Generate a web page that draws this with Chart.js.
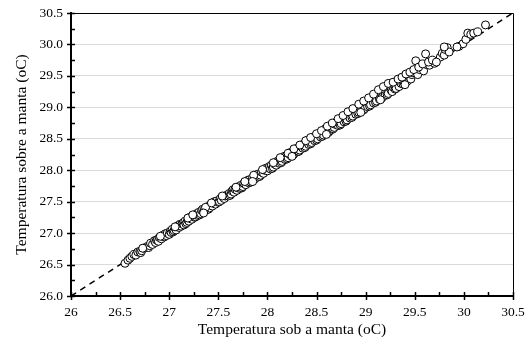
<!DOCTYPE html>
<html>
<head>
<meta charset="utf-8">
<script src="https://cdn.jsdelivr.net/npm/chart.js@4/dist/chart.umd.min.js"></script>
<style>
  body { margin: 0; background: #fff; }
</style>
</head>
<body>
<canvas id="scatterChart" width="526" height="343"></canvas>
<script>
// temperatura sob a manta (x) x temperatura sobre a manta (y)
const sobManta = [
  26.55, 26.58, 26.60, 26.62, 26.64, 26.66, 26.68, 26.70, 26.71, 26.72, 26.74, 26.76, 26.78, 26.79, 26.80, 26.81,
  26.83, 26.85, 26.86, 26.87, 26.88, 26.89, 26.90, 26.92, 26.93, 26.94, 26.95, 26.96, 26.97, 26.98, 27.00, 27.01,
  27.02, 27.03, 27.04, 27.05, 27.06, 27.07, 27.08, 27.09, 27.10, 27.11, 27.12, 27.13, 27.14, 27.15, 27.16, 27.17,
  27.18, 27.19, 27.20, 27.21, 27.22, 27.23, 27.25, 27.26, 27.27, 27.28, 27.29, 27.30, 27.31, 27.32, 27.33, 27.34,
  27.35, 27.36, 27.38, 27.39, 27.40, 27.41, 27.42, 27.44, 27.45, 27.46, 27.47, 27.48, 27.50, 27.51, 27.52, 27.53,
  27.55, 27.56, 27.57, 27.58, 27.60, 27.61, 27.62, 27.63, 27.64, 27.65, 27.66, 27.67, 27.69, 27.70, 27.71, 27.72,
  27.73, 27.74, 27.75, 27.76, 27.78, 27.79, 27.80, 27.81, 27.82, 27.83, 27.84, 27.85, 27.87, 27.88, 27.89, 27.90,
  27.91, 27.92, 27.93, 27.94, 27.96, 27.97, 27.98, 27.99, 28.00, 28.01, 28.02, 28.03, 28.04, 28.05, 28.06, 28.07,
  28.08, 28.09, 28.10, 28.11, 28.12, 28.13, 28.14, 28.15, 28.16, 28.17, 28.18, 28.19, 28.20, 28.21, 28.22, 28.23,
  28.24, 28.25, 28.26, 28.27, 28.28, 28.29, 28.30, 28.31, 28.32, 28.33, 28.34, 28.35, 28.36, 28.37, 28.38, 28.39,
  28.40, 28.41, 28.42, 28.43, 28.44, 28.45, 28.46, 28.47, 28.48, 28.49, 28.50, 28.51, 28.52, 28.53, 28.54, 28.55,
  28.56, 28.57, 28.58, 28.59, 28.60, 28.61, 28.62, 28.63, 28.64, 28.65, 28.66, 28.67, 28.68, 28.69, 28.70, 28.71,
  28.72, 28.73, 28.74, 28.75, 28.76, 28.77, 28.78, 28.79, 28.80, 28.81, 28.82, 28.83, 28.84, 28.85, 28.86, 28.87,
  28.88, 28.89, 28.90, 28.91, 28.92, 28.93, 28.94, 28.95, 28.96, 28.97, 28.98, 28.99, 29.00, 29.01, 29.02, 29.03,
  29.04, 29.05, 29.06, 29.07, 29.08, 29.09, 29.10, 29.11, 29.12, 29.13, 29.14, 29.15, 29.16, 29.17, 29.18, 29.19,
  29.20, 29.21, 29.22, 29.23, 29.24, 29.25, 29.26, 29.27, 29.28, 29.29, 29.30, 29.31, 29.32, 29.34, 29.35, 29.36,
  29.38, 29.39, 29.40, 29.42, 29.43, 29.44, 29.46, 29.47, 29.48, 29.50, 29.51, 29.53, 29.55, 29.57, 29.59, 29.61,
  29.62, 29.65, 29.70, 29.76, 29.78, 29.80, 29.81, 29.83, 29.85, 29.95, 29.99, 30.02, 30.04, 30.07, 30.10, 30.14,
  30.22,
  26.73, 26.91, 27.06, 27.19, 27.24, 27.37, 27.43, 27.54, 27.68, 27.77, 27.86, 27.95, 28.06, 28.13, 28.21, 28.27,
  28.33, 28.39, 28.44, 28.50, 28.55, 28.61, 28.66, 28.72, 28.77, 28.82, 28.87, 28.93, 28.98, 29.03, 29.08, 29.13,
  29.18, 29.23, 29.28, 29.33, 29.37, 29.41, 29.45, 29.49, 29.54, 29.58, 29.64, 29.68, 29.72, 29.80, 29.93,
  27.35, 27.85, 28.25, 28.60, 28.95, 29.15, 29.40
];
const sobreManta = [
  26.52, 26.57, 26.60, 26.63, 26.66, 26.65, 26.70, 26.71, 26.69, 26.72, 26.76, 26.77, 26.79, 26.77, 26.80, 26.84,
  26.82, 26.88, 26.85, 26.89, 26.90, 26.87, 26.93, 26.91, 26.95, 26.97, 26.94, 26.99, 26.96, 27.00, 26.98, 27.03,
  27.01, 27.06, 27.02, 27.04, 27.08, 27.05, 27.10, 27.12, 27.09, 27.14, 27.11, 27.15, 27.16, 27.13, 27.19, 27.15,
  27.17, 27.21, 27.19, 27.25, 27.24, 27.22, 27.27, 27.25, 27.26, 27.31, 27.28, 27.33, 27.29, 27.31, 27.36, 27.38,
  27.34, 27.39, 27.37, 27.42, 27.38, 27.40, 27.45, 27.43, 27.48, 27.50, 27.46, 27.51, 27.49, 27.50, 27.55, 27.52,
  27.57, 27.55, 27.59, 27.60, 27.59, 27.63, 27.60, 27.62, 27.67, 27.69, 27.65, 27.70, 27.68, 27.72, 27.74, 27.71,
  27.76, 27.72, 27.74, 27.79, 27.77, 27.82, 27.84, 27.80, 27.85, 27.81, 27.83, 27.88, 27.86, 27.91, 27.93, 27.89,
  27.94, 27.90, 27.92, 27.97, 27.95, 28.00, 28.03, 28.01, 27.99, 28.04, 28.06, 28.02, 28.08, 28.03, 28.05, 28.10,
  28.12, 28.08, 28.14, 28.15, 28.11, 28.16, 28.12, 28.14, 28.20, 28.22, 28.17, 28.22, 28.18, 28.20, 28.26, 28.28,
  28.23, 28.28, 28.24, 28.26, 28.32, 28.34, 28.29, 28.35, 28.30, 28.32, 28.38, 28.40, 28.35, 28.42, 28.36, 28.38,
  28.45, 28.48, 28.41, 28.47, 28.42, 28.44, 28.51, 28.53, 28.47, 28.54, 28.48, 28.50, 28.57, 28.59, 28.53, 28.60,
  28.54, 28.56, 28.63, 28.66, 28.59, 28.67, 28.60, 28.62, 28.69, 28.71, 28.65, 28.66, 28.68, 28.73, 28.76, 28.78,
  28.71, 28.79, 28.72, 28.74, 28.82, 28.84, 28.77, 28.85, 28.78, 28.80, 28.89, 28.91, 28.83, 28.92, 28.84, 28.86,
  28.95, 28.97, 28.89, 28.98, 28.90, 28.92, 29.02, 29.03, 28.95, 29.05, 28.96, 28.98, 29.08, 29.10, 29.01, 29.12,
  29.02, 29.04, 29.14, 29.16, 29.07, 29.18, 29.08, 29.10, 29.22, 29.24, 29.13, 29.25, 29.14, 29.16, 29.30, 29.28,
  29.19, 29.33, 29.20, 29.22, 29.36, 29.38, 29.27, 29.25, 29.32, 29.35, 29.29, 29.30, 29.40, 29.33, 29.42, 29.38,
  29.37, 29.40, 29.45, 29.41, 29.47, 29.50, 29.45, 29.52, 29.55, 29.58, 29.74, 29.52, 29.60, 29.63, 29.58, 29.85,
  29.68, 29.67, 29.70, 29.80, 29.86, 29.83, 29.92, 29.95, 29.88, 29.97, 30.01, 30.08, 30.18, 30.16, 30.18, 30.20,
  30.31,
  26.76, 26.95, 27.10, 27.24, 27.29, 27.41, 27.48, 27.59, 27.73, 27.82, 27.92, 28.01, 28.12, 28.20, 28.27, 28.34,
  28.40, 28.47, 28.52, 28.58, 28.63, 28.70, 28.75, 28.82, 28.87, 28.93, 28.98, 29.05, 29.10, 29.15, 29.21, 29.28,
  29.33, 29.38, 29.40, 29.45, 29.48, 29.53, 29.56, 29.60, 29.64, 29.69, 29.72, 29.75, 29.72, 29.96, 29.96,
  27.32, 27.82, 28.22, 28.57, 28.92, 29.12, 29.36
];
const linhaXY = [26, 30.5];

const isMajor = v => Math.abs(Math.round(v * 2) - v * 2) < 1e-6;

// moldura + marcas de escala (maiores cruzam o eixo, menores por dentro)
const frameTicks = {
  id: 'frameTicks',
  afterDraw(chart) {
    const { ctx, chartArea: a, scales: { x, y } } = chart;
    ctx.save();
    ctx.strokeStyle = '#000';
    ctx.lineWidth = 1;
    ctx.beginPath();
    ctx.moveTo(a.left, a.top + 0.5);
    ctx.lineTo(a.right + 0.5, a.top + 0.5);
    ctx.lineTo(a.right + 0.5, a.bottom);
    ctx.stroke();

    ctx.lineWidth = 1.5;
    ctx.beginPath();
    x.ticks.forEach(t => {
      const px = Math.round(x.getPixelForValue(t.value)) + 0.5;
      ctx.moveTo(px, a.bottom - 4);
      ctx.lineTo(px, a.bottom + (isMajor(t.value) ? 4 : 0));
    });
    y.ticks.forEach(t => {
      const py = Math.round(y.getPixelForValue(t.value)) + 0.5;
      ctx.moveTo(a.left + 4, py);
      ctx.lineTo(a.left - (isMajor(t.value) ? 4 : 0), py);
    });
    ctx.stroke();
    ctx.restore();
  }
};

const fonte = { family: "'Liberation Serif', 'Times New Roman', serif", size: 13.5 };
const fonteTitulo = { family: fonte.family, size: 15.5 };

new Chart(document.getElementById('scatterChart'), {
  type: 'scatter',
  data: {
    datasets: [
      {
        data: sobManta.map((v, i) => ({ x: v, y: sobreManta[i] })),
        pointRadius: 4,
        pointBackgroundColor: '#fff',
        pointBorderColor: '#000',
        pointBorderWidth: 1,
        order: 1
      },
      {
        type: 'line',
        data: linhaXY.map(v => ({ x: v, y: v })),
        borderColor: '#000',
        borderWidth: 1.5,
        borderDash: [6, 5],
        pointRadius: 0,
        order: 2
      }
    ]
  },
  options: {
    responsive: false,
    animation: false,
    layout: { padding: { left: 0, top: 13, right: 13, bottom: 0 } },
    plugins: { legend: { display: false }, tooltip: { enabled: false } },
    scales: {
      x: {
        type: 'linear',
        min: 26, max: 30.5,
        afterFit: s => { s.height = 47; s.paddingLeft = 0; s.paddingRight = 0; },
        border: { color: '#000', width: 2 },
        grid: { drawOnChartArea: false, drawTicks: false },
        ticks: {
          stepSize: 0.25, autoSkip: false, maxRotation: 0,
          padding: 8, color: '#000', font: fonte,
          callback: v => isMajor(v) ? String(Number(v.toFixed(2))) : ''
        },
        title: {
          display: true, text: 'Temperatura sob a manta (oC)', color: '#000',
          font: fonteTitulo, padding: { top: 4, bottom: 4 }
        }
      },
      y: {
        min: 26, max: 30.5,
        afterFit: s => { s.width = 71; s.paddingTop = 0; s.paddingBottom = 0; },
        border: { color: '#000', width: 2 },
        grid: {
          drawTicks: false,
          color: c => isMajor(c.tick.value) ? '#d9d9d9' : 'rgba(0,0,0,0)',
          lineWidth: 1
        },
        ticks: {
          stepSize: 0.25, autoSkip: false,
          padding: 8, color: '#000', font: fonte,
          callback: v => isMajor(v) ? v.toFixed(1) : ''
        },
        title: {
          display: true, text: 'Temperatura sobre a manta (oC)', color: '#000',
          font: fonteTitulo, padding: { top: 13, bottom: 4 }
        }
      }
    }
  },
  plugins: [frameTicks]
});
</script>
</body>
</html>
